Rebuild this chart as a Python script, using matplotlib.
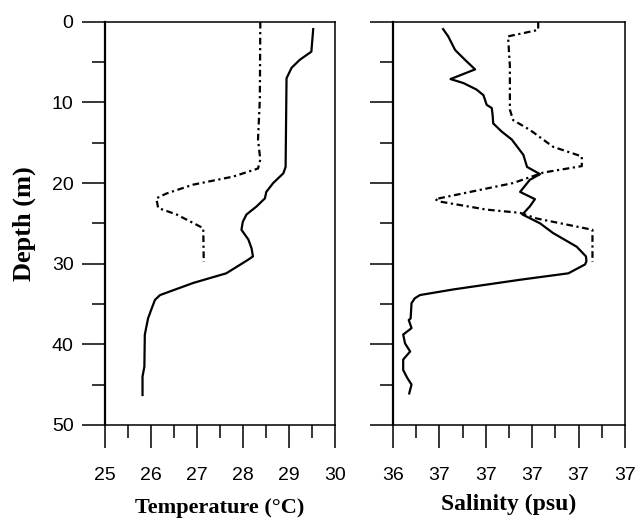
import matplotlib
matplotlib.use("Agg")
import matplotlib.pyplot as plt
from matplotlib.ticker import MultipleLocator, FixedLocator

# Temperature profile (solid)
temp_solid_t = [29.53, 29.49, 29.24, 29.06, 28.95, 28.93, 28.88, 28.66, 28.51, 28.48, 28.30,
                28.08, 28.00, 27.97, 28.12, 28.19, 28.22, 28.12, 27.64, 26.92, 26.20, 26.09,
                26.01, 25.94, 25.87, 25.86, 25.82, 25.82]
temp_solid_d = [0.9, 3.7, 4.7, 5.7, 7.0, 18.0, 18.8, 20.0, 21.1, 21.9, 22.9,
                23.9, 24.8, 25.8, 27.0, 28.1, 29.1, 29.5, 31.2, 32.4, 33.9, 34.5,
                35.7, 36.8, 38.8, 42.8, 44.0, 46.3]

# Temperature profile (dashed)
temp_dash_t = [28.38, 28.37, 28.33, 28.38, 28.33, 27.79, 26.92, 26.34, 26.12, 26.16, 26.56,
               27.14, 27.15, 27.15]
temp_dash_d = [0.0, 9.6, 14.6, 17.1, 18.2, 19.2, 20.2, 21.3, 21.9, 23.1, 23.9,
               25.6, 29.5, 29.8]

# Salinity profile (solid)
sal_solid_s = [36.608, 36.619, 36.634, 36.655, 36.677, 36.624, 36.652, 36.680, 36.695, 36.702,
               36.713, 36.715, 36.716, 36.734, 36.756, 36.781, 36.789, 36.817, 36.795, 36.774,
               36.806, 36.795, 36.779, 36.817, 36.845, 36.896, 36.916, 36.917, 36.914, 36.878,
               36.774, 36.630, 36.558, 36.547, 36.540, 36.538, 36.534, 36.540, 36.522, 36.526,
               36.537, 36.522, 36.522, 36.531, 36.540, 36.535]
sal_solid_d = [0.9, 1.8, 3.5, 4.7, 5.9, 7.1, 7.6, 8.4, 9.1, 10.3,
               10.7, 11.7, 12.6, 13.6, 14.6, 16.5, 18.0, 18.9, 19.6, 21.1,
               22.0, 22.9, 23.9, 25.0, 26.2, 27.9, 29.1, 29.7, 30.1, 31.2,
               32.0, 33.2, 33.9, 34.3, 34.9, 36.8, 37.0, 38.0, 38.8, 39.9,
               40.9, 41.9, 43.2, 44.2, 45.0, 46.1]

# Salinity profile (dashed)
sal_dash_s = [36.813, 36.813, 36.781, 36.748, 36.752, 36.752, 36.759, 36.795, 36.845, 36.907,
              36.907, 36.824, 36.759, 36.591, 36.601, 36.702, 36.774, 36.810, 36.930, 36.930,
              36.930]
sal_dash_d = [0.0, 1.0, 1.4, 1.8, 5.5, 10.9, 12.2, 13.4, 15.5, 16.7,
              17.9, 18.7, 20.0, 22.0, 22.3, 23.3, 23.7, 24.4, 25.8, 29.5,
              29.8]

temp_ticks = [25, 26, 27, 28, 29, 30]
temp_labels = ["25", "26", "27", "28", "29", "30"]
sal_ticks = [36.5, 36.6, 36.7, 36.8, 36.9, 37.0]
sal_labels = ["36", "37", "37", "37", "37", "37"]
depth_ticks = [0, 10, 20, 30, 40, 50]

serif = ["Liberation Serif", "DejaVu Serif"]
sans = ["Liberation Sans", "DejaVu Sans"]
plt.rcParams['font.family'] = sans

fig = plt.figure(figsize=(6.39, 5.2), dpi=100)
ax1 = fig.add_axes([0.164, 0.183, 0.360, 0.775])
ax2 = fig.add_axes([0.615, 0.183, 0.363, 0.775])

dash = (0, (3, 1.6, 1, 1.6))

ax1.plot(temp_solid_t, temp_solid_d, color='black', lw=1.6)
ax1.plot(temp_dash_t, temp_dash_d, color='black', lw=1.6, linestyle=dash)
ax2.plot(sal_solid_s, sal_solid_d, color='black', lw=1.6)
ax2.plot(sal_dash_s, sal_dash_d, color='black', lw=1.6, linestyle=dash)

for ax in (ax1, ax2):
    ax.set_ylim(50, 0)
    ax.yaxis.set_major_locator(FixedLocator(depth_ticks))
    ax.yaxis.set_minor_locator(MultipleLocator(5))
    ax.tick_params(which='major', direction='out', length=16.5, width=1.1,
                   labelsize=14, pad=6)
    ax.tick_params(which='minor', direction='out', length=9.5, width=1.1)
    for s in ax.spines.values():
        s.set_linewidth(1.1)
    ax.spines['left'].set_linewidth(1.6)
    ax.tick_params(axis='x', which='major', pad=14)

ax1.set_xlim(25, 30)
ax1.set_xticks(temp_ticks)
ax1.set_xticklabels(temp_labels)
ax1.xaxis.set_minor_locator(MultipleLocator(0.5))
ax1.set_yticks(depth_ticks)
ax1.set_yticklabels([str(d) for d in depth_ticks])

ax2.set_xlim(36.5, 37.0)
ax2.set_xticks(sal_ticks)
ax2.set_xticklabels(sal_labels)
ax2.xaxis.set_minor_locator(FixedLocator([36.55, 36.65, 36.75, 36.85, 36.95]))
ax2.set_yticklabels([])

ax1.set_xlabel("Temperature (°C)", family=serif, fontweight='bold', fontsize=16, labelpad=10)
ax2.set_xlabel("Salinity (psu)", family=serif, fontweight='bold', fontsize=17, labelpad=7)
ax1.set_ylabel("Depth (m)", family=serif, fontweight='bold', fontsize=19, labelpad=11)

fig.savefig("out.png", dpi=100)
